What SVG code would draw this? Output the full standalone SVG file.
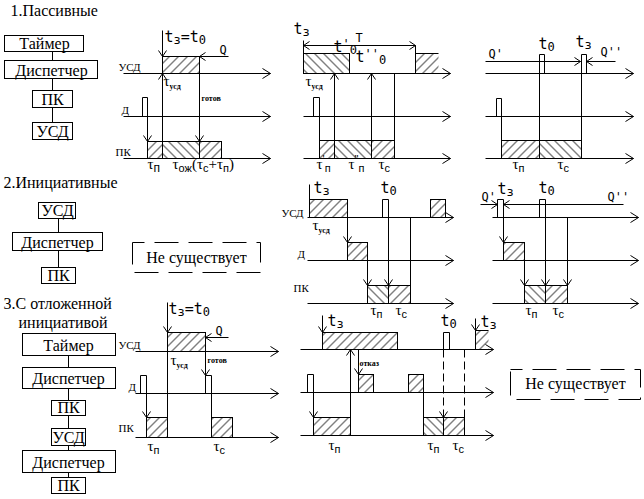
<svg xmlns="http://www.w3.org/2000/svg" width="644" height="499" viewBox="0 0 644 499">
<style>
.b{fill:none;stroke:#000;stroke-width:1}
.l{fill:none;stroke:#000;stroke-width:1}
.ax{marker-end:url(#ah)}
.ar{marker-end:url(#sa)}
.hf{fill:url(#hf);stroke:#000}
.hb{fill:url(#hb);stroke:#000}
.dsh{stroke-dasharray:8,4}
.dbox{fill:none;stroke:#000;stroke-dasharray:24,10;stroke-dashoffset:12}
text{fill:#000}
.ti{font-size:16px}
.bx{font-size:16px;text-anchor:middle}
.lb{font-size:11px}
.sm{font-size:8px;font-weight:bold}
.tau{font-size:15px}
.us{font-size:8px;font-weight:bold}
.sub{font-size:12px}
</style>
<defs>
<pattern id="hf" width="9" height="9" patternUnits="userSpaceOnUse"><path d="M-2,2 L2,-2 M0,9 L9,0 M7,11 L11,7" stroke="#000" stroke-width="1"/></pattern>
<pattern id="hb" width="9" height="9" patternUnits="userSpaceOnUse"><path d="M-2,7 L2,11 M0,0 L9,9 M7,-2 L11,2" stroke="#000" stroke-width="1"/></pattern>
<marker id="ah" markerWidth="12" markerHeight="12" refX="8" refY="5" orient="auto" markerUnits="userSpaceOnUse" overflow="visible"><path d="M0,0 L8,5 L0,10" fill="none" stroke="#000" stroke-width="1"/></marker>
<marker id="sa" markerWidth="10" markerHeight="10" refX="6" refY="4" orient="auto" markerUnits="userSpaceOnUse" overflow="visible"><path d="M0,0 L6,4 L0,8" fill="none" stroke="#000" stroke-width="1" stroke-dasharray="none"/></marker>
<marker id="sb" markerWidth="10" markerHeight="10" refX="6" refY="4" orient="auto-start-reverse" markerUnits="userSpaceOnUse" overflow="visible"><path d="M0,0 L6,4 L0,8" fill="none" stroke="#000" stroke-width="1"/></marker>
</defs>
<rect width="644" height="499" fill="#fff"/>
<g transform="translate(0.5,0.5)" font-family="Liberation Serif, Times New Roman, serif">

<!-- Section 1 -->
<text class="ti" x="10" y="15">1.Пассивные</text>
<g id="s1-timer"><rect class="b" x="4" y="35" width="79" height="16"/><text class="bx" x="44" y="48">Таймер</text></g>
<g id="s1-disp"><rect class="b" x="4" y="60" width="93" height="18"/><text class="bx" x="51" y="75">Диспетчер</text></g>
<g id="s1-pk"><rect class="b" x="32" y="90" width="40" height="17"/><text class="bx" x="52" y="104">ПК</text></g>
<g id="s1-usd"><rect class="b" x="32" y="122" width="40" height="17"/><text class="bx" x="52" y="136">УСД</text></g>

<!-- Section 2 -->
<text class="ti" x="3" y="187">2.Инициативные</text>
<g id="s2-usd"><rect class="b" x="38" y="202" width="37" height="16"/><text class="bx" x="57" y="215">УСД</text></g>
<g id="s2-disp"><rect class="b" x="12" y="232" width="90" height="18"/><text class="bx" x="57" y="247">Диспетчер</text></g>
<g id="s2-pk"><rect class="b" x="41" y="267" width="34" height="16"/><text class="bx" x="58" y="280">ПК</text></g>
<g id="s2-none"><rect class="dbox" x="132" y="242" width="128" height="30"/><text class="bx" x="196" y="262">Не существует</text></g>

<!-- Section 3 -->
<text class="ti" x="3" y="308">3.С отложенной</text>
<text class="ti" x="18" y="327">инициативой</text>
<g id="s3-timer"><rect class="b" x="22" y="333" width="93" height="22"/><text class="bx" x="68" y="350">Таймер</text></g>
<g id="s3-disp1"><rect class="b" x="22" y="367" width="93" height="21"/><text class="bx" x="68" y="383">Диспетчер</text></g>
<g id="s3-pk1"><rect class="b" x="51" y="400" width="34" height="15"/><text class="bx" x="68" y="412">ПК</text></g>
<g id="s3-usd"><rect class="b" x="51" y="428" width="34" height="17"/><text class="bx" x="68" y="442">УСД</text></g>
<g id="s3-disp2"><rect class="b" x="22" y="450" width="93" height="22"/><text class="bx" x="68" y="467">Диспетчер</text></g>
<g id="s3-pk2"><rect class="b" x="51" y="477" width="34" height="16"/><text class="bx" x="68" y="490">ПК</text></g>
<g id="s3-none"><rect class="dbox" x="510" y="369" width="130" height="30"/><text class="bx" x="575" y="388">Не существует</text></g>

<g id="connectors" class="l">
<path d="M52,51 V60 M52,78 V90 M52,107 V122"/>
<path d="M58,218 V232 M58,250 V267"/>
<path d="M68,355 V367 M68,388 V400 M68,415 V428 M68,445 V450 M68,472 V477"/>
</g>

<!-- Timing 1a -->
<g id="t1a">
<path class="l ax" d="M123,73 H270"/>
<path class="l ax" d="M123,116 H270"/>
<path class="l ax" d="M123,158 H270"/>
<text class="lb" x="118" y="70">УСД</text>
<text class="lb" x="121" y="113">Д</text>
<text class="lb" x="115" y="155">ПК</text>
<rect class="hf" x="162" y="56" width="37" height="17"/>
<rect class="hf" x="147" y="141" width="15" height="17"/>
<rect class="hb" x="162" y="141" width="37" height="17"/>
<rect class="hf" x="199" y="141" width="22" height="17"/>
<path class="l ar" d="M162,30 V56"/>
<path class="l ar" d="M162,141 V73"/>
<path class="l ar" d="M228,56 H199"/>
<path class="l ar" d="M199,73 V141"/>
<path class="l ar" d="M142,116 V97 H147 V141"/>
<text class="sm" x="201" y="100">готов</text>
<text class="tau" x="163" y="85">τ<tspan class="us" dy="3">усд</tspan></text>
<text class="tau" x="147" y="168">τ<tspan class="sub" dy="3" font-family="Liberation Sans, sans-serif" font-size="11">п</tspan></text>
<text class="tau" x="172" y="168">τ<tspan font-family="Liberation Sans, sans-serif" font-size="11" dy="3">ож</tspan><tspan dy="-3">(τ</tspan><tspan font-family="Liberation Sans, sans-serif" font-size="11" dy="3">с</tspan><tspan dy="-3">+τ</tspan><tspan font-family="Liberation Sans, sans-serif" font-size="11" dy="3">п</tspan><tspan dy="-3">)</tspan></text>
</g>

<!-- Timing 1b -->
<g id="t1b">
<path class="l ax" d="M303,73 H450"/>
<path class="l ax" d="M303,116 H450"/>
<path class="l ax" d="M303,158 H450"/>
<rect class="hb" x="303" y="53" width="46" height="20"/>
<rect x="415" y="53" width="23" height="20" fill="url(#hf)"/>
<path class="l" d="M415,45 V73 M415,53 H438 M303,40 V73"/>
<path class="l" d="M303,45 H415" marker-start="url(#sb)" marker-end="url(#sb)"/>
<rect class="hf" x="319" y="140" width="15" height="18"/>
<rect class="hb" x="334" y="140" width="37" height="18"/>
<rect class="hf" x="371" y="140" width="23" height="18"/>
<path class="l ar" d="M334,158 V73"/>
<path class="l ar" d="M371,158 V73"/>
<path class="l" d="M394,73 V158"/>
<path class="l" d="M313,116 V97 H319 V158"/>
<text class="tau" x="305" y="85">τ<tspan class="us" dy="3">усд</tspan></text>
<g font-family="Liberation Sans, sans-serif" font-size="11">
<text class="tau" x="316" y="168" font-family="Liberation Serif, serif">τ<tspan font-family="Liberation Sans, sans-serif" font-size="11" dy="-6">'</tspan><tspan font-family="Liberation Sans, sans-serif" font-size="11" dy="9">п</tspan></text>
<text class="tau" x="348" y="168" font-family="Liberation Serif, serif">τ<tspan font-family="Liberation Sans, sans-serif" font-size="11" dy="-6">"</tspan><tspan font-family="Liberation Sans, sans-serif" font-size="11" dy="9">п</tspan></text>
<text class="tau" x="378" y="168" font-family="Liberation Serif, serif">τ<tspan font-family="Liberation Sans, sans-serif" font-size="11" dy="3">с</tspan></text>
</g>
</g>

<!-- Timing 1c -->
<g id="t1c">
<path class="l ax" d="M485,73 H633"/>
<path class="l ax" d="M485,116 H633"/>
<path class="l ax" d="M485,158 H633"/>
<rect class="hf" x="501" y="140" width="38" height="18"/>
<rect class="hb" x="539" y="140" width="42" height="18"/>
<path class="l ar" d="M485,61 H580"/>
<path class="l ar" d="M615,61 H586"/>
<path class="l" d="M539,158 V54 H544 V73"/>
<path class="l" d="M581,158 V54 H586 V73"/>
<path class="l" d="M496,116 V98 H501 V158"/>
<text class="tau" x="512" y="168">τ<tspan font-family="Liberation Sans, sans-serif" font-size="11" dy="3">п</tspan></text>
<text class="tau" x="557" y="168">τ<tspan font-family="Liberation Sans, sans-serif" font-size="11" dy="3">с</tspan></text>
</g>

<!-- Timing 2a -->
<g id="t2a">
<path class="l ax" d="M307,217 H453"/>
<path class="l ax" d="M307,260 H453"/>
<path class="l ax" d="M307,303 H453"/>
<text class="lb" x="281" y="216">УСД</text>
<text class="lb" x="297" y="257">Д</text>
<text class="lb" x="293" y="291">ПК</text>
<rect class="hf" x="309" y="199" width="38" height="18"/>
<rect class="hf" x="430" y="199" width="15" height="18"/>
<rect class="hf" x="347" y="242" width="20" height="18"/>
<rect class="hb" x="367" y="285" width="21" height="18"/>
<rect class="hf" x="388" y="285" width="22" height="18"/>
<path class="l" d="M309,184 V199"/>
<path class="l ar" d="M347,217 V242"/>
<path class="l ar" d="M367,260 V285"/>
<path class="l ar" d="M382,217 V199 H388 V285"/>
<path class="l" d="M410,217 V285"/>
<text class="tau" x="312" y="229">τ<tspan class="us" dy="3">усд</tspan></text>
<text class="tau" x="370" y="314">τ<tspan font-family="Liberation Sans, sans-serif" font-size="11" dy="3">п</tspan></text>
<text class="tau" x="395" y="314">τ<tspan font-family="Liberation Sans, sans-serif" font-size="11" dy="3">с</tspan></text>
</g>

<!-- Timing 2b -->
<g id="t2b">
<path class="l ax" d="M492,217 H638"/>
<path class="l ax" d="M492,260 H638"/>
<path class="l ax" d="M492,303 H638"/>
<rect class="hf" x="503" y="242" width="21" height="18"/>
<rect class="hb" x="524" y="285" width="21" height="18"/>
<rect class="hf" x="545" y="285" width="22" height="18"/>
<path class="l ar" d="M480,204 H497"/>
<path class="l ar" d="M623,204 H503"/>
<path class="l ar" d="M497,217 V199 H503 V242"/>
<path class="l ar" d="M539,217 V199 H545 V285"/>
<path class="l ar" d="M524,260 V285"/>
<path class="l ar" d="M567,217 V285"/>
<text class="tau" x="525" y="314">τ<tspan font-family="Liberation Sans, sans-serif" font-size="11" dy="3">п</tspan></text>
<text class="tau" x="552" y="314">τ<tspan font-family="Liberation Sans, sans-serif" font-size="11" dy="3">с</tspan></text>
</g>

<!-- Timing 3a -->
<g id="t3a">
<path class="l ax" d="M135,351 H278"/>
<path class="l ax" d="M135,393 H278"/>
<path class="l ax" d="M135,437 H278"/>
<text class="lb" x="118" y="348">УСД</text>
<text class="lb" x="128" y="390">Д</text>
<text class="lb" x="118" y="431">ПК</text>
<rect class="hf" x="167" y="332" width="38" height="19"/>
<rect class="hf" x="146" y="417" width="21" height="20"/>
<rect class="hf" x="211" y="417" width="21" height="20"/>
<path class="l ar" d="M167,302 V332"/>
<path class="l" d="M167,351 V437"/>
<path class="l ar" d="M228,337 H205"/>
<path class="l ar" d="M205,351 V375"/>
<path class="l" d="M205,393 V375 H211 V437"/>
<path class="l ar" d="M140,393 V375 H146 V417"/>
<text class="tau" x="170" y="364">τ<tspan class="us" dy="3">усд</tspan></text>
<text class="sm" x="207" y="362">готов</text>
<text class="tau" x="147" y="450">τ<tspan font-family="Liberation Sans, sans-serif" font-size="11" dy="3">п</tspan></text>
<text class="tau" x="213" y="450">τ<tspan font-family="Liberation Sans, sans-serif" font-size="11" dy="3">с</tspan></text>
</g>

<!-- Timing 3b -->
<g id="t3b">
<path class="l ax" d="M300,349 H493"/>
<path class="l ax" d="M300,392 H493"/>
<path class="l ax" d="M300,435 H493"/>
<rect class="hf" x="322" y="332" width="75" height="17"/>
<rect class="hf" x="358" y="374" width="15" height="18"/>
<rect class="hf" x="408" y="374" width="15" height="18"/>
<rect class="hf" x="313" y="417" width="37" height="18"/>
<rect class="hb" x="423" y="417" width="20" height="18"/>
<rect class="hf" x="443" y="417" width="21" height="18"/>
<rect x="475" y="330" width="13" height="19" fill="url(#hf)"/>
<path class="l ar" d="M322,315 V332"/>
<path class="l ar" d="M350,435 V349"/>
<path class="l ar" d="M358,349 V374"/>
<path class="l" d="M423,392 V435"/>
<path class="l ar" d="M307,392 V374 H313 V417"/>
<path class="l" d="M443,349 V332 H449 V349"/>
<path class="l ar dsh" d="M443,349 V417"/>
<path class="l dsh" d="M464,349 V417"/>
<path class="l ar" d="M475,318 V330"/>
<path class="l" d="M475,349 V330 H488"/>
<text class="sm" x="359" y="365">отказ</text>
<text class="tau" x="328" y="449">τ<tspan font-family="Liberation Sans, sans-serif" font-size="11" dy="3">п</tspan></text>
<text class="tau" x="427" y="449">τ<tspan font-family="Liberation Sans, sans-serif" font-size="11" dy="3">п</tspan></text>
<text class="tau" x="452" y="449">τ<tspan font-family="Liberation Sans, sans-serif" font-size="11" dy="3">с</tspan></text>
</g>

<!-- time labels (mono) -->
<g id="tlabels" font-family="DejaVu Sans Mono, monospace" font-size="15">
<text x="164" y="41">t<tspan font-size="12" dy="2">з</tspan><tspan dy="-2">=t</tspan><tspan font-size="12" dy="2">0</tspan></text>
<text x="219" y="53" font-size="12">Q</text>
<text x="293" y="33">t<tspan font-size="12" dy="2">з</tspan></text>
<text x="355" y="41" font-size="12">T</text>
<text x="333" y="51">t<tspan font-size="12" dy="-4">'</tspan><tspan font-size="12" dy="6">0</tspan></text>
<text x="355" y="61">t<tspan font-size="12" dy="-4">''</tspan><tspan font-size="12" dy="6">0</tspan></text>
<text x="488" y="57" font-size="12">Q'</text>
<text x="600" y="55" font-size="12">Q''</text>
<text x="538" y="48">t<tspan font-size="12" dy="2">0</tspan></text>
<text x="575" y="46">t<tspan font-size="12" dy="2">з</tspan></text>
<text x="313" y="192">t<tspan font-size="12" dy="2">з</tspan></text>
<text x="380" y="192">t<tspan font-size="12" dy="2">0</tspan></text>
<text x="481" y="200" font-size="12">Q'</text>
<text x="607" y="200" font-size="12">Q''</text>
<text x="497" y="193">t<tspan font-size="12" dy="2">з</tspan></text>
<text x="538" y="192">t<tspan font-size="12" dy="2">0</tspan></text>
<text x="168" y="313">t<tspan font-size="12" dy="2">з</tspan><tspan dy="-2">=t</tspan><tspan font-size="12" dy="2">0</tspan></text>
<text x="215" y="334" font-size="12">Q</text>
<text x="327" y="325">t<tspan font-size="12" dy="2">з</tspan></text>
<text x="440" y="325">t<tspan font-size="12" dy="2">0</tspan></text>
<text x="480" y="326">t<tspan font-size="12" dy="2">з</tspan></text>
</g>
</g>
</svg>
